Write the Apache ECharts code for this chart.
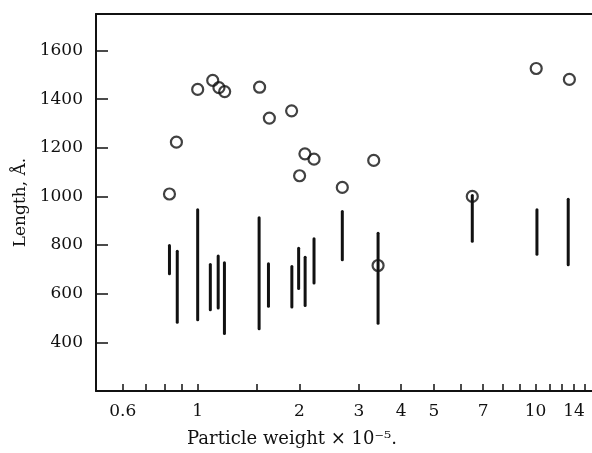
<!DOCTYPE html>
<html>
<head>
<meta charset="utf-8">
<script src="https://cdn.jsdelivr.net/npm/echarts@6/dist/echarts.min.js"></script>
<style>html,body{margin:0;padding:0;background:#fff}#c{width:592px;height:453px}</style>
</head>
<body>
<div id="c"></div>
<script>
// Circles: particle weight (x 10^-5) and length (Å)
var circleX = [0.825, 0.865, 1.0, 1.108, 1.156, 1.202, 1.525, 1.63, 1.897, 2.077, 2.21, 2.003, 2.68, 3.32, 6.5, 10.05, 12.6, 3.42];
var circleY = [1010, 1223, 1440, 1477, 1447, 1431, 1449, 1322, 1352, 1175, 1153, 1085, 1037, 1148, 1000, 1526, 1481, 716];
// Vertical range bars
var segX  = [0.825, 0.87, 1.0, 1.09, 1.15, 1.20, 1.52, 1.62, 1.90, 1.99, 2.08, 2.21, 2.68, 3.42, 6.5, 10.1, 12.5];
var segLo = [682, 483, 493, 534, 541, 436, 456, 548, 545, 621, 552, 644, 740, 479, 816, 762, 719];
var segHi = [798, 775, 945, 720, 755, 727, 912, 723, 712, 787, 750, 826, 938, 849, 1004, 945, 988];
// Axis ticks
var xTickValues = [0.6, 0.7, 0.8, 0.9, 1, 1.5, 2, 3, 4, 5, 6, 7, 8, 9, 10, 11, 12, 13, 14];
var xLabelValues = [0.6, 1, 2, 3, 4, 5, 7, 10, 14];
var yTickValues = [400, 600, 800, 1000, 1200, 1400, 1600];
var xMin = 0.5, xMax = 14.7, yMin = 200, yMax = 1750;

var lg = function (v) { return Math.log10(v); };
var font = 'DejaVu Serif';
var ink = '#111';

var circleData = circleX.map(function (x, i) { return [lg(x), circleY[i]]; });
var segData = segX.map(function (x, i) { return [lg(x), segLo[i], segHi[i]]; });

var chart = echarts.init(document.getElementById('c'), null, {renderer: 'canvas'});
chart.setOption({
  animation: false,
  backgroundColor: '#fff',
  grid: {left: 96, right: 0, top: 14, bottom: 62, containLabel: false, outerBoundsMode: 'none'},
  xAxis: [{
    type: 'value',
    min: lg(xMin), max: lg(xMax),
    axisLine: {show: true, onZero: false, lineStyle: {color: ink, width: 2}},
    axisTick: {show: true, inside: true, length: 7, customValues: xTickValues.map(lg), lineStyle: {color: ink, width: 1.5}},
    axisLabel: {
      show: true, customValues: xLabelValues.map(lg), margin: 12, alignMaxLabel: 'right',
      fontFamily: font, fontSize: 17, color: ink,
      formatter: function (v) { var r = Math.pow(10, v); return String(Math.round(r * 10) / 10); }
    },
    splitLine: {show: false},
    name: 'Particle weight \u00d7 10\u207b\u2075.',
    nameLocation: 'middle', nameGap: 39,
    nameTextStyle: {fontFamily: font, fontSize: 18, color: ink, padding: [0, 104, 0, 0]}
  }, {
    type: 'value', position: 'top',
    min: lg(xMin), max: lg(xMax),
    axisLine: {show: true, onZero: false, lineStyle: {color: ink, width: 2}},
    axisTick: {show: false}, axisLabel: {show: false}, splitLine: {show: false}
  }],
  yAxis: {
    type: 'value', min: yMin, max: yMax,
    axisLine: {show: true, onZero: false, lineStyle: {color: ink, width: 2}},
    axisTick: {show: true, inside: true, length: 12, customValues: yTickValues, lineStyle: {color: ink, width: 1.5}},
    axisLabel: {show: true, customValues: yTickValues, margin: 13, fontFamily: font, fontSize: 17, color: ink,
      formatter: function (v) { return String(Math.round(v)); }},
    splitLine: {show: false},
    name: 'Length, \u00c5.',
    nameLocation: 'middle', nameGap: 62,
    nameTextStyle: {fontFamily: font, fontSize: 17, color: ink}
  },
  series: [{
    type: 'scatter',
    data: circleData,
    symbol: 'circle',
    symbolSize: 11,
    itemStyle: {color: 'rgba(255,255,255,0)', borderColor: ink, borderWidth: 2.2},
    z: 3
  }, {
    type: 'custom',
    data: segData,
    z: 4,
    renderItem: function (params, api) {
      var p1 = api.coord([api.value(0), api.value(1)]);
      var p2 = api.coord([api.value(0), api.value(2)]);
      return {type: 'line', shape: {x1: p1[0], y1: p1[1], x2: p2[0], y2: p2[1]},
              style: {stroke: ink, lineWidth: 3, lineCap: 'round'}};
    }
  }]
});
</script>
</body>
</html>
